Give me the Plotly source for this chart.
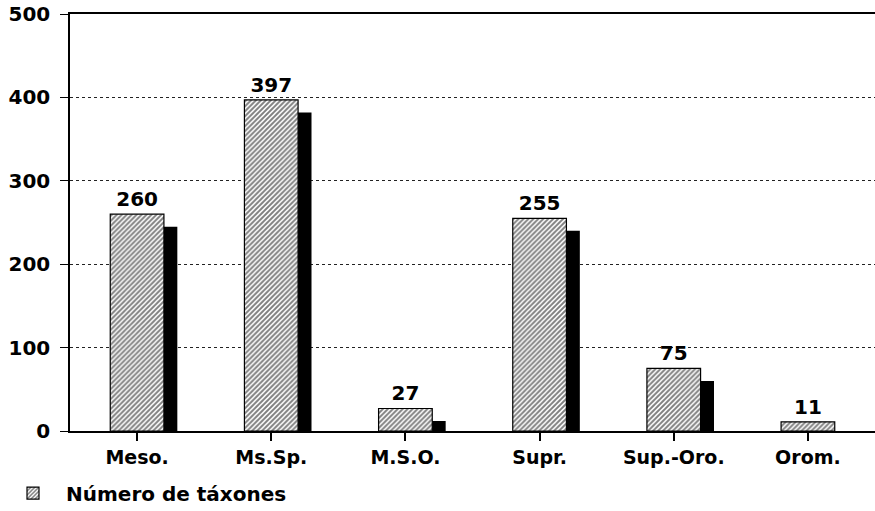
import plotly.graph_objects as go

categories = ["Meso.", "Ms.Sp.", "M.S.O.", "Supr.", "Sup.-Oro.", "Orom."]
taxa_counts = [260, 397, 27, 255, 75, 11]
y_ticks = [0, 100, 200, 300, 400, 500]
shadow_drop = 15

shadow_vals = [max(0, v - shadow_drop) for v in taxa_counts]

FAM = "DejaVu Sans, Liberation Sans, Arial, sans-serif"
bold = dict(family=FAM, color="black", size=18, weight="bold")

fig = go.Figure()
fig.add_trace(go.Bar(
    x=categories, y=shadow_vals, width=0.4, offset=-0.1,
    marker=dict(color="black", line=dict(width=0)),
    showlegend=False, hoverinfo="skip",
))
fig.add_trace(go.Bar(
    x=categories, y=taxa_counts, width=0.4, offset=-0.2,
    name="Número de táxones",
    marker=dict(color="white", line=dict(color="black", width=1.2),
                pattern=dict(shape="/", fgcolor="black", bgcolor="white", size=3.5, solidity=0.55)),
    text=taxa_counts, textposition="outside",
    textfont=dict(family=FAM, color="black", size=20, weight="bold"), cliponaxis=False,
))

fig.update_layout(
    width=875, height=511,
    margin=dict(l=70, r=0, t=14, b=80, autoexpand=False),
    barmode="overlay",
    plot_bgcolor="white", paper_bgcolor="white",
    font=bold,
    showlegend=True,
    legend=dict(xref="container", yref="container", x=0.0, y=0.035,
                xanchor="left", yanchor="middle",
                font=dict(family=FAM, size=20, color="black", weight="bold"),
                itemwidth=56, bgcolor="rgba(0,0,0,0)"),
    xaxis=dict(showline=True, linecolor="black", linewidth=1.5, mirror=True,
               ticks="outside", ticklen=8, tickcolor="black", tickwidth=1.5,
               tickfont=dict(family=FAM, size=19, color="black", weight="bold"), showgrid=False),
    yaxis=dict(range=[0, 500], tickvals=y_ticks, showline=True, linecolor="black", linewidth=1.5,
               ticks="outside", ticklen=8, tickcolor="black", tickwidth=1,
               ticklabelstandoff=6,
               tickfont=dict(family=FAM, size=20, color="black", weight="bold"),
               showgrid=True, gridcolor="#222222", gridwidth=1,
               griddash="dot", zeroline=False),
)

fig.write_html("out.html", config={"displayModeBar": False},
               post_script="document.body.style.margin='0';")
